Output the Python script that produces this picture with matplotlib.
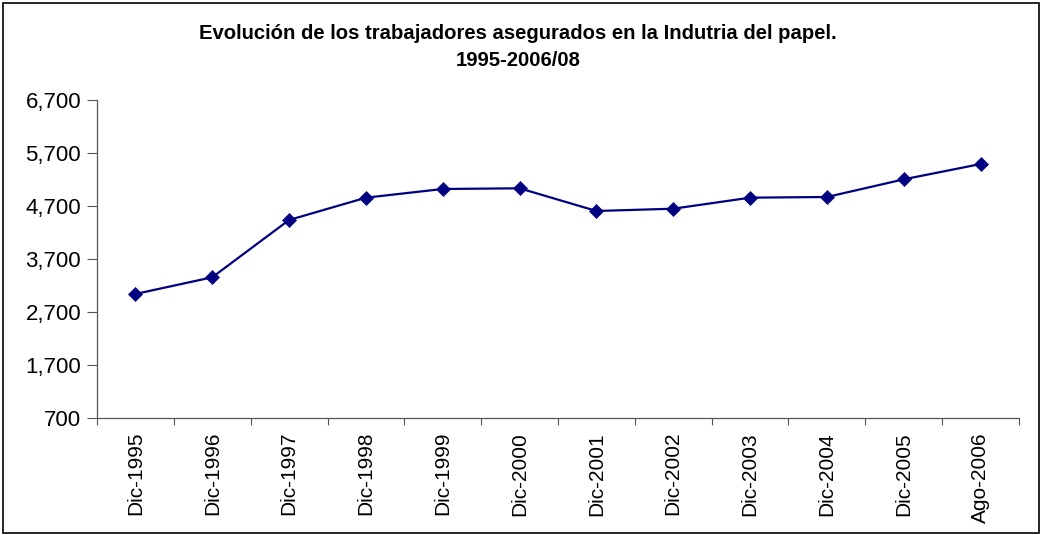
import matplotlib
matplotlib.use("Agg")
import matplotlib.pyplot as plt
from matplotlib.patches import Rectangle
from matplotlib.ticker import FuncFormatter, FixedLocator

categories = ["Dic-1995", "Dic-1996", "Dic-1997", "Dic-1998", "Dic-1999", "Dic-2000",
              "Dic-2001", "Dic-2002", "Dic-2003", "Dic-2004", "Dic-2005", "Ago-2006"]
values = [3040, 3355, 4436, 4857, 5021, 5034, 4606, 4649, 4857, 4870, 5203, 5492]
yticks = [700, 1700, 2700, 3700, 4700, 5700, 6700]
title = "Evolución de los trabajadores asegurados en la Indutria del papel.\n1995-2006/08"

plt.rcParams['font.family'] = ['Liberation Sans', 'DejaVu Sans']

W, H = 1041, 535
fig = plt.figure(figsize=(W / 100, H / 100), dpi=100)
fig.patch.set_facecolor("white")

ax = fig.add_axes([97 / W, 1 - 418 / H, (1019 - 97) / W, (418 - 100) / H])
x = list(range(len(categories)))
ax.plot(x, values, color="#000080", linewidth=1.6, marker="D", markersize=6.8,
        markerfacecolor="#000080", markeredgecolor="#000080", markeredgewidth=0.5)

ax.set_xlim(-0.5, len(categories) - 0.5)
ax.set_ylim(yticks[0], yticks[-1])
ax.set_yticks(yticks)
ax.yaxis.set_major_formatter(FuncFormatter(lambda v, p: f"{int(v):,}"))
ax.tick_params(axis="y", direction="out", length=7.5, width=0.8, labelsize=16, pad=4,
               colors="#555555", labelcolor="black")

ax.set_xticks(x)
ax.set_xticklabels(categories, rotation=90, fontsize=15)
ax.tick_params(axis="x", which="major", length=0, pad=10)
ax.xaxis.set_minor_locator(FixedLocator([i - 0.5 for i in range(len(categories) + 1)]))
ax.tick_params(axis="x", which="minor", direction="out", length=5, width=0.8, colors="#555555")

for s in ["top", "right"]:
    ax.spines[s].set_visible(False)
ax.spines["left"].set_color("#555555")
ax.spines["bottom"].set_color("#555555")
ax.spines["left"].set_linewidth(0.9)
ax.spines["bottom"].set_linewidth(0.9)

fig.text(518 / W, 1 - 47 / H, title, ha="center", va="center",
         fontsize=14.6, fontweight="bold", linespacing=1.55)

fig.patches.append(Rectangle((3 / W, 2 / H), (1039 - 3) / W, (532 - 2) / H,
                             transform=fig.transFigure, fill=False, edgecolor="black",
                             linewidth=1.2))

fig.savefig("out.png", dpi=100)
